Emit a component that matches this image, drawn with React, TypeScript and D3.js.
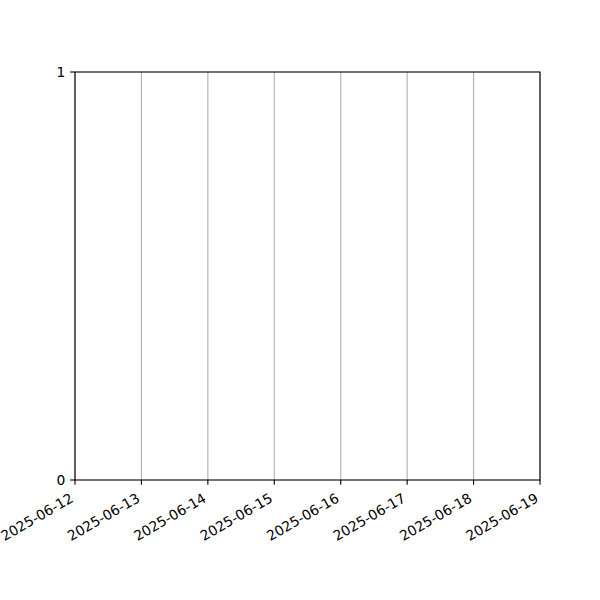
import React, { useEffect, useRef } from "react";
import * as d3 from "d3";

const dates: string[] = [
    "2025-06-12", "2025-06-13", "2025-06-14", "2025-06-15",
    "2025-06-16", "2025-06-17", "2025-06-18", "2025-06-19"
];
const yTicks: number[] = [0, 1];

export default function App() {
    const svgRef = useRef<SVGSVGElement | null>(null);
    const width = 600;
    const height = 600;

    useEffect(() => {
        document.body.style.margin = "0";
        if (!svgRef.current) return;

        const svg = d3.select(svgRef.current);
        svg.selectAll("*").remove();

        const margin = { top: 72, right: 60, bottom: 120, left: 75 };
        const innerW = width - margin.left - margin.right;
        const innerH = height - margin.top - margin.bottom;
        const fontSize = 13.89;
        const tickLen = 4.86;
        const font = "DejaVu Sans, sans-serif";

        const parse = d3.utcParse("%Y-%m-%d");
        const dateVals = dates.map(d => parse(d)!);

        const x = d3.scaleUtc()
            .domain([dateVals[0], dateVals[dateVals.length - 1]])
            .range([0, innerW]);
        const y = d3.scaleLinear().domain([0, 1]).range([innerH, 0]);

        svg.append("rect")
            .attr("width", width)
            .attr("height", height)
            .attr("fill", "#fff");

        const g = svg.append("g").attr("transform", `translate(${margin.left},${margin.top})`);

        // vertical grid
        g.selectAll("line.grid")
            .data(dateVals)
            .join("line")
            .attr("class", "grid")
            .attr("x1", d => x(d))
            .attr("x2", d => x(d))
            .attr("y1", 0)
            .attr("y2", innerH)
            .attr("stroke", "#b0b0b0")
            .attr("stroke-width", 1.1);

        // spines
        g.append("rect")
            .attr("width", innerW)
            .attr("height", innerH)
            .attr("fill", "none")
            .attr("stroke", "#000")
            .attr("stroke-width", 1.1);

        // x ticks
        const xt = g.selectAll("g.xt")
            .data(dateVals)
            .join("g")
            .attr("class", "xt")
            .attr("transform", d => `translate(${x(d)},${innerH})`);
        xt.append("line")
            .attr("y1", 0)
            .attr("y2", tickLen)
            .attr("stroke", "#000")
            .attr("stroke-width", 1.1);
        xt.append("text")
            .attr("transform", `translate(${-0.6},${21}) rotate(-30)`)
            .attr("text-anchor", "end")
            .attr("font-family", font)
            .attr("font-size", fontSize)
            .attr("fill", "#000")
            .text((d, i) => dates[i]);

        // y ticks
        const yt = g.selectAll("g.yt")
            .data(yTicks)
            .join("g")
            .attr("class", "yt")
            .attr("transform", d => `translate(0,${y(d)})`);
        yt.append("line")
            .attr("x1", -tickLen)
            .attr("x2", 0)
            .attr("stroke", "#000")
            .attr("stroke-width", 1.1);
        yt.append("text")
            .attr("x", -tickLen - 4.86)
            .attr("dy", "0.35em")
            .attr("text-anchor", "end")
            .attr("font-family", font)
            .attr("font-size", fontSize)
            .attr("fill", "#000")
            .text(d => String(d));
    }, []);

    return (
        <svg
            ref={svgRef}
            width={width}
            height={height}
            viewBox={`0 0 ${width} ${height}`}
            style={{ display: "block" }}
        />
    );
}
